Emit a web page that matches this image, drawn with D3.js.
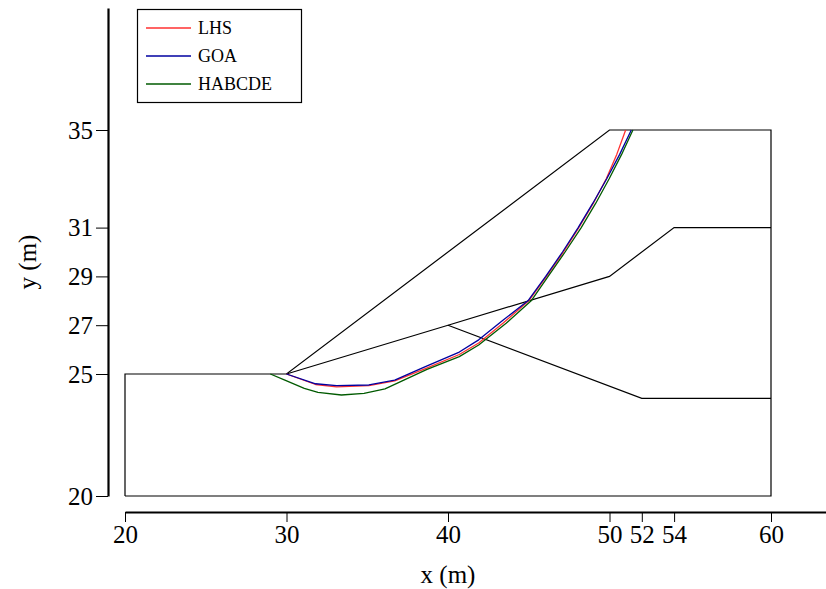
<!DOCTYPE html>
<html>
<head>
<meta charset="utf-8">
<script src="https://cdn.jsdelivr.net/npm/d3@7"></script>
<style>
  html, body { margin: 0; padding: 0; background: #fff; }
  svg { display: block; }
  text { font-family: "Liberation Serif", "DejaVu Serif", serif; fill: #000; }
</style>
</head>
<body>
<svg id="chart" width="826" height="589"></svg>
<script>
// ---- data ----
const xTicks = [20, 30, 40, 50, 52, 54, 60];
const yTicks = [20, 25, 27, 29, 31, 35];

// slope geometry (x, y in m)
const slopeOutline = [[20, 20], [20, 25], [30, 25], [50, 35], [60, 35], [60, 20], [20, 20]];
const layerUpper = [[30, 25], [40, 27], [50, 29], [54, 31], [60, 31]];
const layerLower = [[40, 27], [52, 24], [60, 24]];

// critical slip surfaces
const seriesNames = ["LHS", "GOA", "HABCDE"];
const lhs = [[30, 25], [31.8, 24.57], [33.1, 24.47], [35.1, 24.52], [36.7, 24.72], [38.6, 25.22], [40.7, 25.8], [41.9, 26.27], [43.4, 27.08], [45.0, 28], [46.1, 29], [47.15, 30], [48.1, 31], [49.0, 32], [49.8, 33], [50.45, 34], [51.0, 35]];
const goa = [[30, 25], [31.8, 24.6], [33.1, 24.52], [35.1, 24.55], [36.7, 24.75], [38.6, 25.3], [40.7, 25.9], [41.9, 26.4], [43.4, 27.2], [44.95, 28], [46.05, 29], [47.09, 30], [48.06, 31], [48.97, 32], [49.83, 33], [50.63, 34], [51.35, 35]];
const habcde = [[29, 25], [29.9, 24.75], [31.1, 24.41], [31.95, 24.25], [33.4, 24.14], [34.8, 24.21], [36.1, 24.39], [38.7, 25.19], [40.7, 25.71], [41.9, 26.19], [43.6, 27.08], [45.15, 28], [46.2, 29], [47.25, 30], [48.25, 31], [49.15, 32], [49.98, 33], [50.75, 34], [51.45, 35]];
const seriesData = [lhs, goa, habcde];
const seriesColors = ["#ff3030", "#0000a0", "#005a00"];

// ---- scales ----
const svg = d3.select("#chart");
const x = d3.scaleLinear().domain([20, 60]).range([125, 771]);
const y = d3.scaleLinear().domain([20, 35]).range([496, 130]);

// axis scales extended for the spines
const xAxisScale = x.copy().domain([20, 64]).range([x(20), x(64)]);
const yAxisScale = y.copy().domain([20, 40]).range([y(20), y(40)]);

const line = d3.line().x(d => x(d[0])).y(d => y(d[1]));

// slope geometry
[slopeOutline, layerUpper, layerLower].forEach(pts => {
  svg.append("path").attr("d", line(pts))
    .attr("fill", "none").attr("stroke", "#000").attr("stroke-width", 1.2);
});

// slip surfaces
seriesData.forEach((pts, i) => {
  svg.append("path").attr("d", line(pts))
    .attr("fill", "none").attr("stroke", seriesColors[i]).attr("stroke-width", 1.3)
    .attr("stroke-linejoin", "round");
});

// x axis
const gx = svg.append("g").attr("transform", "translate(0,512)")
  .call(d3.axisBottom(xAxisScale).tickValues(xTicks).tickFormat(d3.format("d")).tickSize(10).tickSizeOuter(0).tickPadding(3));
gx.select(".domain").attr("stroke-width", 2.2);
gx.selectAll(".tick line").attr("stroke-width", 1);
gx.selectAll(".tick text").style("font-size", "25px").style("font-family", "'Liberation Serif', serif");

// y axis
const gy = svg.append("g").attr("transform", "translate(108,0)")
  .call(d3.axisLeft(yAxisScale).tickValues(yTicks).tickFormat(d3.format("d")).tickSize(12).tickSizeOuter(0).tickPadding(3));
gy.select(".domain").attr("stroke-width", 2.2);
gy.selectAll(".tick line").attr("stroke-width", 1);
gy.selectAll(".tick text").style("font-size", "25px").style("font-family", "'Liberation Serif', serif");

// axis titles
svg.append("text").attr("x", 448).attr("y", 583).attr("text-anchor", "middle")
  .style("font-size", "25px").text("x (m)");
svg.append("text").attr("transform", "translate(36,262) rotate(-90)").attr("text-anchor", "middle")
  .style("font-size", "25px").text("y (m)");

// legend
const lg = svg.append("g");
lg.append("rect").attr("x", 137.5).attr("y", 9.5).attr("width", 164).attr("height", 93)
  .attr("fill", "#fff").attr("stroke", "#000").attr("stroke-width", 1.2);
seriesNames.forEach((name, i) => {
  const yy = 28 + i * 28;
  lg.append("line").attr("x1", 146).attr("x2", 191).attr("y1", yy).attr("y2", yy)
    .attr("stroke", seriesColors[i]).attr("stroke-width", 1.3);
  lg.append("text").attr("x", 198).attr("y", yy + 6).style("font-size", "18px").text(name);
});
</script>
</body>
</html>
